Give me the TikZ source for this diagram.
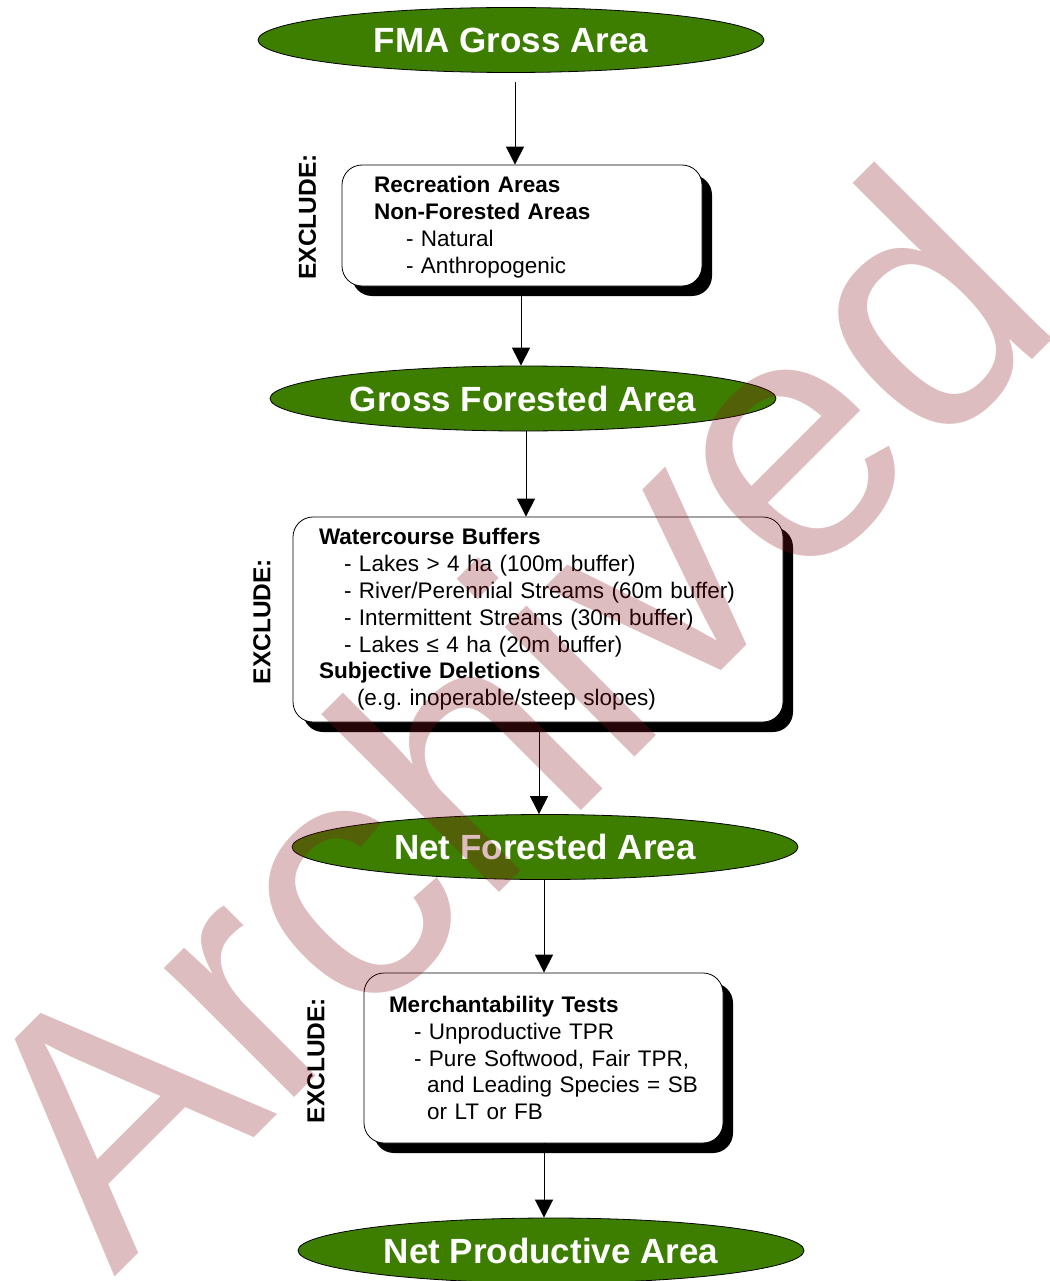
\documentclass[tikz,border=0pt]{standalone}
\usepackage{fontspec}
\setmainfont{Liberation Sans}
\usetikzlibrary{shapes.geometric,shadows,arrows.meta}
\definecolor{fgreen}{RGB}{61,126,0}
\definecolor{wmred}{RGB}{140,20,30}
\frenchspacing
\begin{document}
\begin{tikzpicture}[x=1pt,y=-1pt,
  term/.style={ellipse, draw=black, line width=0.8pt, fill=fgreen, minimum width=506pt,
    minimum height=65pt, inner sep=0pt, text=white, font=\fontsize{35}{42}\selectfont\bfseries},
  excbox/.style={rectangle, rounded corners=20pt, draw=black, line width=0.8pt, fill=white,
    align=left, inner ysep=0pt,
    drop shadow={shadow xshift=10pt, shadow yshift=-10pt, fill=black, opacity=1},
    font=\fontsize{22.5}{26.8}\selectfont},
  exlabel/.style={rotate=90, font=\fontsize{24.5}{29}\selectfont\bfseries, inner sep=0pt},
  arr/.style={line width=1pt, -{Triangle[width=18pt,length=18pt]}},
]
\useasboundingbox[fill=white] (0,0) rectangle (1049,1281);

% terminal ellipses
\node[term] (e1) at (511,40) {FMA Gross Area};
\node[term] (e2) at (523,398.5) {Gross Forested Area};
\node[term] (e3) at (545,847) {Net Forested Area};
\node[term] (e4) at (551,1250.5) {Net Productive Area};

% exclusion boxes
\node[excbox, minimum width=360pt, minimum height=121pt, text width=296pt, inner xsep=32pt,
  font=\fontsize{22.5}{27}\selectfont] (b1) at (522,225.5)
{\rule{0pt}{20pt}\textbf{Recreation Areas}\\
 \textbf{Non-Forested Areas}\\
 \hspace*{32pt}- Natural\\
 \hspace*{32pt}- Anthropogenic};

\node[excbox, minimum width=490pt, minimum height=205pt, text width=438pt, inner xsep=26pt] (b2) at (538,619.5)
{\textbf{Watercourse Buffers}\\
 \hspace*{25pt}- Lakes > 4 ha (100m buffer)\\
 \hspace*{25pt}- River/Perennial Streams (60m buffer)\\
 \hspace*{25pt}- Intermittent Streams (30m buffer)\\
 \hspace*{25pt}- Lakes ≤ 4 ha (20m buffer)\\
 \textbf{Subjective Deletions}\\
 \hspace*{38pt}(e.g. inoperable/steep slopes)};

\node[excbox, minimum width=359pt, minimum height=170pt, text width=309pt, inner xsep=25pt] (b3) at (543.5,1058)
{\textbf{Merchantability Tests}\\
 \hspace*{25pt}- Unproductive TPR\\
 \hspace*{25pt}- Pure Softwood, Fair TPR,\\
 \hspace*{38pt}and Leading Species = SB\\
 \hspace*{38pt}or LT or FB};

% side labels
\node[exlabel] (x1) at (307.5,217) {EXCLUDE:};
\node[exlabel] (x2) at (262,621.5) {EXCLUDE:};
\node[exlabel] (x3) at (316,1060.5) {EXCLUDE:};

% connectors
\coordinate (c1) at (515,0);
\coordinate (c2) at (521,0);
\coordinate (c3) at (526,0);
\coordinate (c4) at (539,0);
\coordinate (c5) at (544,0);
\draw[arr, shorten <=9pt] (e1.south -| c1) -- (b1.north -| c1);
\draw[arr] (b1.south -| c2) -- (e2.north -| c2);
\draw[arr] (e2.south -| c3) -- (b2.north -| c3);
\draw[arr] (b2.south -| c4) -- (e3.north -| c4);
\draw[arr] (e3.south -| c5) -- (b3.north -| c5);
\draw[arr] (b3.south -| c5) -- (e4.north -| c5);

% watermark
\node[rotate=45, anchor=base west, inner sep=0pt, text=wmred, text opacity=0.28,
  font=\fontsize{347}{400}\selectfont] (wm) at (114,1278) {Archived};
\end{tikzpicture}
\end{document}
